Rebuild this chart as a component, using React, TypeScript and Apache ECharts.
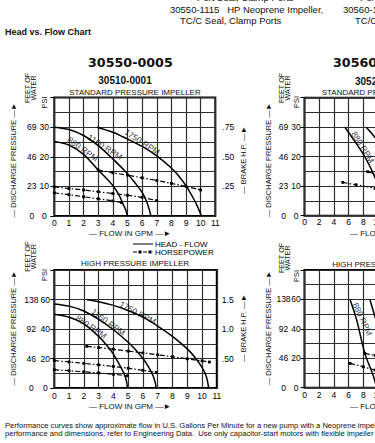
import React, { useEffect, useRef } from 'react';
import * as echarts from 'echarts';

type P = [number, number];

const FONT = '"Liberation Sans", Arial, Helvetica, sans-serif';
const WIDE = '"DejaVu Sans", Verdana, sans-serif';

// axis ranges
const leftFlowMax = 11;
const leftFlowStep = 1;
const rightFlowMax = 22;
const rightFlowStep = 2;
const stdPsiMax = 40;
const stdPsiStep = 10;
const hiPsiMax = 80;
const hiPsiStep = 20;
const FEET_PER_PSI = 2.3;
const PSI_PER_HP = 40;

// 30510-0001 standard pressure impeller: [gpm, psi]
const std880: P[] = [[0, 25.2], [1, 24], [2, 20.8], [3, 15.5], [3.5, 13], [4, 10.3], [4.4, 7.3], [4.7, 4], [4.9, 1.8], [5, 0]];
const std1160: P[] = [[0, 30], [1, 29.2], [2, 27.2], [3, 23.8], [4, 19.3], [5, 14.3], [5.5, 11.3], [6, 8], [6.3, 5], [6.5, 2], [6.6, 0]];
const std1750: P[] = [[2.9, 30], [4, 28.3], [5, 26], [6, 23.5], [7, 20.3], [8, 16.2], [8.5, 13.5], [9, 10.2], [9.5, 6], [9.8, 3], [10.05, 0]];
// horsepower lines drawn on the psi scale (1 HP = 40 psi of axis)
const stdHp1750: P[] = [[3, 15.5], [4, 14.6], [5, 13.8], [6, 12.9], [7, 12], [8, 11], [9, 10], [10, 8.8]];
const stdHp1160: P[] = [[0, 9.8], [1, 9.3], [2, 8.8], [3, 8.2], [4, 7.6], [5, 7], [6, 6.3], [7, 5.2]];
const stdHp880: P[] = [[0, 7.8], [1, 7.2], [2, 6.5], [3, 5.8], [4, 5.1], [4.6, 4.5]];

// high pressure impeller
const hi880: P[] = [[0, 50], [1, 48], [2, 43.5], [3, 35], [3.5, 29.5], [4, 23], [4.45, 15], [4.75, 9], [4.9, 4], [4.95, 0]];
const hi1160: P[] = [[0, 57], [1, 55.5], [2, 52.2], [3, 46.5], [4, 39.5], [5, 31], [5.5, 26], [6, 20], [6.4, 14], [6.7, 8], [6.85, 3], [6.9, 0]];
const hi1750: P[] = [[2.2, 60], [3, 58.5], [4, 56], [5, 52.5], [6, 48], [7, 42], [8, 35], [9, 26.5], [9.5, 21], [10, 14], [10.3, 7.5], [10.45, 0]];
const hiHp1750: P[] = [[2.2, 28.2], [3, 27.4], [4, 26.3], [5, 25], [6, 23.8], [7, 22.5], [8, 21.2], [9, 19.8], [10, 18.4], [10.5, 17.6]];
const hiHp1160: P[] = [[0, 18.6], [1, 17.7], [2, 16.7], [3, 15.7], [4, 14.6], [5, 13.4], [6, 12], [6.9, 10.6]];
const hiHp880: P[] = [[0, 12.4], [1, 11.7], [2, 11], [3, 10.2], [4, 9.3], [4.95, 8.3]];

// right-hand (30560) charts, mostly cut off
const rStd880: P[] = [[5.5, 30], [6.9, 25], [8.2, 20], [9.4, 14], [10.2, 9], [10.8, 4], [11.1, 0]];
const rStd1160: P[] = [[8.4, 30], [9.6, 26.5], [11, 21.5], [12.5, 15], [13.5, 8], [14, 0]];
const rStdHp880: P[] = [[5.2, 11.3], [7, 10.5], [9.6, 9.3], [12, 8.2]];
const rStdHp1160: P[] = [[8.6, 14.9], [10, 13.8], [12, 12.5]];
const rHi880: P[] = [[6.2, 60], [7.1, 46], [8.2, 23.5], [9.4, 7.5], [9.8, 0]];
const rHi1160: P[] = [[8.9, 60], [9.6, 48], [11, 25], [12, 0]];
const rHiHp880: P[] = [[6.2, 16.5], [8, 14.2], [9.6, 12], [11, 10.5]];
const rHiHp1160: P[] = [[8.2, 23.3], [9.6, 22], [12, 20]];

// rpm label anchors: text, gpm, psi, angle
const stdLabels: [string, number, number, number][] = [['880 RPM', 1.95, 22.6, -36], ['1160 RPM', 3.46, 23.3, -33], ['1750 RPM', 6.0, 25.0, -33]];
const hiLabels: [string, number, number, number][] = [['880 RPM', 2.5, 41.5, -34], ['1160 RPM', 3.65, 44.6, -36], ['1750 RPM', 5.65, 51, -28]];
const rStdLabels: [string, number, number, number][] = [['880 RPM', 7.96, 23.2, -58]];
const rHiLabels: [string, number, number, number][] = [['880 RPM', 7.9, 46.6, -65]];

const legendNames = ['HEAD - FLOW', 'HORSEPOWER'];

const GRIDC = '#2e2e2e';

// legend icons (20 x 3 boxes)
const ICON_HEAD = 'path://M0,0h0.01v0.01h-0.01z M0,0.9h20v1.2h-20z M19.99,2.99h0.01v0.01h-0.01z';
const ICON_HP = 'path://M0,0.95h4v1.1h-4z M5.5,0h3v3h-3z M10,0.95h4v1.1h-4z M15.5,0h3v3h-3z M19.5,0.95h0.5v1.1h-0.5z';

function fmtHp(h: number) {
  return h < 1 ? '.' + String(Math.round(h * 100)).padStart(2, '0') : h.toFixed(1);
}

function xAxis(gridIndex: number, max: number, step: number, margin: number) {
  return {
    type: 'value', gridIndex, min: 0, max, interval: step,
    axisLine: { show: false }, axisTick: { show: false },
    splitLine: { show: true, lineStyle: { color: GRIDC, width: 1.2 } },
    axisLabel: { fontSize: 8.5, fontFamily: FONT, color: '#000', margin, showMinLabel: true, showMaxLabel: true },
  };
}

function psiAxis(gridIndex: number, max: number, step: number, margin: number) {
  return {
    type: 'value', gridIndex, min: 0, max, interval: step, position: 'left',
    axisLine: { show: false },
    axisTick: { show: true, length: 4, lineStyle: { color: '#000', width: 1 } },
    splitLine: { show: true, lineStyle: { color: GRIDC, width: 1.2 } },
    minorTick: { show: false, splitNumber: 2 },
    minorSplitLine: { show: true, lineStyle: { color: GRIDC, width: 1.2 } },
    axisLabel: {
      align: 'center', margin, fontSize: 8.5, fontFamily: FONT, color: '#000',
      formatter: (v: number) => (v >= max ? '' : String(v)),
    },
  };
}

function feetAxis(gridIndex: number, max: number, step: number, margin: number) {
  return {
    type: 'value', gridIndex, min: 0, max, interval: step, position: 'left',
    axisLine: { show: false }, axisTick: { show: false }, splitLine: { show: false },
    axisLabel: {
      align: 'center', margin, fontSize: 8.5, fontFamily: FONT, color: '#000',
      formatter: (v: number) => (v >= max ? '' : String(Math.round(v * FEET_PER_PSI))),
    },
  };
}

function hpAxis(gridIndex: number, max: number, step: number, margin: number) {
  return {
    type: 'value', gridIndex, min: 0, max, interval: step, position: 'right',
    axisLine: { show: false }, axisTick: { show: false }, splitLine: { show: false },
    axisLabel: {
      align: 'left', margin, fontSize: 8.5, fontFamily: FONT, color: '#000',
      formatter: (v: number) => (v <= 0 || v >= max ? '' : fmtHp(v / PSI_PER_HP)),
    },
  };
}

function head(data: P[], xi: number, yi: number) {
  return {
    type: 'line', name: legendNames[0], xAxisIndex: xi, yAxisIndex: yi, data,
    smooth: 0.3, symbol: 'none', showSymbol: false,
    lineStyle: { color: '#000', width: 1.5 }, itemStyle: { color: '#000' }, z: 4, silent: true,
  };
}

function hp(data: P[], xi: number, yi: number) {
  return {
    type: 'line', name: legendNames[1], xAxisIndex: xi, yAxisIndex: yi, data,
    smooth: 0.2, symbol: 'rect', symbolSize: 2.8, showSymbol: true,
    lineStyle: { color: '#000', width: 1.2, type: [5, 2, 1.5, 2] }, itemStyle: { color: '#000' }, z: 4, silent: true,
  };
}

function rpmLabels(labels: [string, number, number, number][], xi: number, yi: number) {
  return {
    type: 'scatter', xAxisIndex: xi, yAxisIndex: yi, symbolSize: 0, silent: true, z: 5,
    data: labels.map(([t, x, y, a]) => ({ name: t, value: [x, y], label: { rotate: a } })),
    label: { show: true, position: 'inside', formatter: '{b}', fontSize: 8.5, fontFamily: FONT, color: '#000' },
  };
}

function txt(text: string, x: number, y: number, font: string, align = 'left', rotation = 0) {
  return {
    type: 'text', x, y, rotation, silent: true,
    style: { text, x: 0, y: 0, font, fill: '#111', align, verticalAlign: 'middle' },
  };
}

export default function App() {
  const ref = useRef<HTMLDivElement>(null);
  useEffect(() => {
    if (!ref.current) return;
    const chart = echarts.init(ref.current, null, { renderer: 'svg' });
    const R = Math.PI / 2;
    const f75 = `7.5px ${FONT}`;
    const f72 = `7.2px ${FONT}`;
    const f8 = `8px ${FONT}`;
    const f95 = `9.5px ${FONT}`;
    const graphic: any[] = [
      txt('Port Seal, Clamp Ports', 197, -3, f95),
      txt('30550-1115   HP Neoprene Impeller,', 170, 9, f95),
      txt('TC/C Seal, Clamp Ports', 180, 20, f95),
      txt('Port Seal, Clamp Ports', 360, -3, f95),
      txt('30560-1115   HP Neoprene Impeller,', 343, 9, f95),
      txt('TC/C Seal, Clamp Ports', 355, 20, f95),
      txt('Head vs. Flow Chart', 5, 32, `bold 9px ${FONT}`),
      txt('30550-0005', 88, 62, `bold 12.7px ${WIDE}`),
      txt('30560-0005', 333, 62, `bold 12.7px ${WIDE}`),
      txt('30510-0001', 125, 80.7, `bold 10px ${FONT}`, 'center'),
      txt('30520-0001', 355, 81, `bold 10px ${FONT}`),
      txt('STANDARD PRESSURE IMPELLER', 135, 92.3, f8, 'center'),
      txt('STANDARD PRESSURE IMPELLER', 321.7, 92.3, f8),
      txt('HIGH PRESSURE IMPELLER', 135, 263, f8, 'center'),
      txt('HIGH PRESSURE IMPELLER', 332.3, 264, f8),
      txt('— FLOW IN GPM —►', 89, 233, f8),
      txt('— FLOW IN GPM —►', 89, 406, f8),
      txt('— FLOW IN GPM —►', 350, 233, f8),
      txt('— FLOW IN GPM —►', 350, 406, f8),
      // rotated axis titles
      txt('— DISCHARGE PRESSURE —►', 13, 160, f75, 'center', R),
      txt('— DISCHARGE PRESSURE —►', 13, 328, f75, 'center', R),
      txt('— DISCHARGE PRESSURE —►', 268.3, 160, f75, 'center', R),
      txt('— DISCHARGE PRESSURE —►', 268.3, 328, f75, 'center', R),
      txt('FEET OF', 27, 88, f72, 'center', R),
      txt('WATER', 33, 88, f72, 'center', R),
      txt('FEET OF', 27, 256.7, f72, 'center', R),
      txt('WATER', 33, 256.7, f72, 'center', R),
      txt('FEET OF', 281.3, 88, f72, 'center', R),
      txt('WATER', 287, 88, f72, 'center', R),
      txt('FEET OF', 281.3, 258, f72, 'center', R),
      txt('WATER', 287, 258, f72, 'center', R),
      txt('PSI', 44, 102.5, f75, 'center', R),
      txt('PSI', 44.5, 275, f75, 'center', R),
      txt('PSI', 296.7, 102, f75, 'center', R),
      txt('PSI', 296.7, 276, f75, 'center', R),
      txt('— BRAKE H.P. —►', 243, 160, f75, 'center', R),
      txt('— BRAKE H.P. —►', 243, 328, f75, 'center', R),
      txt('Performance curves show approximate flow in U.S. Gallons Per Minute for a new pump with a Neoprene impeller.', 5, 425.7, `7.6px ${FONT}`),
      txt('performance and dimensions, refer to Engineering Data.  Use only capacitor-start motors with flexible impeller pumps.', 5, 433.5, `7.6px ${FONT}`),
    ];

    const gridStyle = { show: true, borderColor: '#000', borderWidth: 2, backgroundColor: 'transparent' };

    chart.setOption({
      animation: false,
      backgroundColor: '#fff',
      grid: [
        { ...gridStyle, left: 54.3, top: 97.6, width: 161, height: 118.4 },
        { ...gridStyle, left: 54.3, top: 270, width: 162.5, height: 118 },
        { ...gridStyle, left: 304.5, top: 97.7, width: 161.7, height: 118 },
        { ...gridStyle, left: 304.5, top: 270, width: 161.7, height: 117.7 },
      ],
      xAxis: [
        xAxis(0, leftFlowMax, leftFlowStep, 2),
        xAxis(1, leftFlowMax, leftFlowStep, 3),
        xAxis(2, rightFlowMax, rightFlowStep, 2),
        xAxis(3, rightFlowMax, rightFlowStep, 3),
      ],
      yAxis: [
        psiAxis(0, stdPsiMax, stdPsiStep, 10),
        feetAxis(0, stdPsiMax, stdPsiStep, 22.5),
        hpAxis(0, stdPsiMax, stdPsiStep, 7),
        psiAxis(1, hiPsiMax, hiPsiStep, 9),
        feetAxis(1, hiPsiMax, hiPsiStep, 23),
        hpAxis(1, hiPsiMax, hiPsiStep, 5),
        psiAxis(2, stdPsiMax, stdPsiStep, 8.5),
        feetAxis(2, stdPsiMax, stdPsiStep, 21),
        psiAxis(3, hiPsiMax, hiPsiStep, 8.5),
        feetAxis(3, hiPsiMax, hiPsiStep, 21),
      ],
      legend: {
        left: 133, top: 240, orient: 'vertical', padding: 0, itemGap: 0,
        itemWidth: 20, itemHeight: 3, selectedMode: false,
        data: [
          { name: legendNames[0], icon: ICON_HEAD },
          { name: legendNames[1], icon: ICON_HP },
        ],
        textStyle: { fontSize: 8, fontFamily: FONT, color: '#000', lineHeight: 8, padding: [0, 0, 0, -3] },
      },
      graphic,
      series: [
        head(std880, 0, 0), head(std1160, 0, 0), head(std1750, 0, 0),
        hp(stdHp1750, 0, 0), hp(stdHp1160, 0, 0), hp(stdHp880, 0, 0),
        rpmLabels(stdLabels, 0, 0),
        head(hi880, 1, 3), head(hi1160, 1, 3), head(hi1750, 1, 3),
        hp(hiHp1750, 1, 3), hp(hiHp1160, 1, 3), hp(hiHp880, 1, 3),
        rpmLabels(hiLabels, 1, 3),
        head(rStd880, 2, 6), head(rStd1160, 2, 6),
        hp(rStdHp880, 2, 6), hp(rStdHp1160, 2, 6),
        rpmLabels(rStdLabels, 2, 6),
        head(rHi880, 3, 8), head(rHi1160, 3, 8),
        hp(rHiHp880, 3, 8), hp(rHiHp1160, 3, 8),
        rpmLabels(rHiLabels, 3, 8),
      ],
    });
    return () => chart.dispose();
  }, []);
  return (
    <div style={{ position: 'absolute', left: 0, top: 0, width: 375, height: 443, overflow: 'hidden', background: '#fff' }}>
      <div ref={ref} style={{ width: 480, height: 443 }} />
    </div>
  );
}
